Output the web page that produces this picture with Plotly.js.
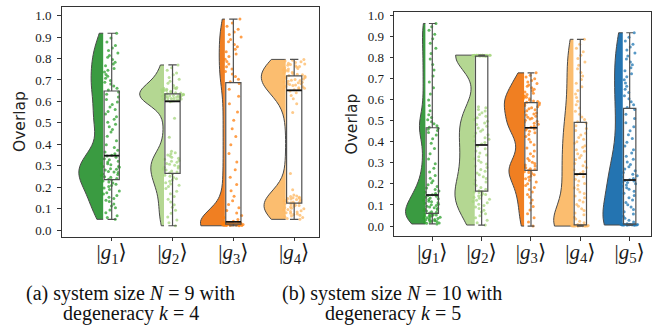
<!DOCTYPE html>
<html>
<head>
<meta charset="utf-8">
<script src="https://cdn.plot.ly/plotly-3.0.1.min.js"></script>
<style>html,body{margin:0;padding:0;background:#fff;}#chart{width:661px;height:335px;}</style>
</head>
<body>
<div id="chart"></div>
<script>
// ---------- data ----------
const tickLabelsA = ['|<i>g</i><sub>1</sub>⟩', '|<i>g</i><sub>2</sub>⟩', '|<i>g</i><sub>3</sub>⟩', '|<i>g</i><sub>4</sub>⟩'];
const tickLabelsB = ['|<i>g</i><sub>1</sub>⟩', '|<i>g</i><sub>2</sub>⟩', '|<i>g</i><sub>3</sub>⟩', '|<i>g</i><sub>4</sub>⟩', '|<i>g</i><sub>5</sub>⟩'];
const yTicks = [0.0, 0.1, 0.2, 0.3, 0.4, 0.5, 0.6, 0.7, 0.8, 0.9, 1.0];

// (a) N = 9, k = 4
const a_g1 = [0.050,0.058,0.067,0.081,0.093,0.104,0.112,0.121,0.133,0.139,0.147,0.153,0.161,0.168,0.174,0.182,0.189,0.196,0.203,0.208,0.214,0.219,0.224,0.229,0.233,
  0.237,0.240,0.246,0.249,0.255,0.259,0.261,0.268,0.271,0.273,0.280,0.284,0.286,0.293,0.296,0.298,0.305,0.309,0.311,0.318,0.321,0.328,0.333,0.339,0.345,
  0.349,0.356,0.364,0.372,0.385,0.398,0.417,0.438,0.457,0.469,0.482,0.494,0.503,0.517,0.528,0.541,0.553,0.562,0.574,0.586,0.597,0.609,0.621,0.633,0.644,
  0.653,0.661,0.672,0.681,0.689,0.698,0.708,0.717,0.726,0.737,0.745,0.754,0.766,0.774,0.783,0.795,0.806,0.814,0.826,0.838,0.849,0.861,0.877,0.896,0.918];
const a_g2 = [0.020,0.034,0.047,0.061,0.078,0.092,0.106,0.118,0.131,0.144,0.157,0.169,0.181,0.194,0.203,0.209,0.215,0.221,0.228,0.233,0.239,0.245,0.251,0.256,0.262,
  0.267,0.271,0.276,0.280,0.285,0.289,0.293,0.298,0.302,0.307,0.311,0.316,0.321,0.325,0.330,0.335,0.340,0.345,0.350,0.356,0.361,0.367,0.433,0.521,0.598,
  0.602,0.603,0.605,0.606,0.608,0.609,0.611,0.612,0.614,0.615,0.617,0.618,0.620,0.621,0.622,0.624,0.625,0.626,0.627,0.628,0.629,0.630,0.631,0.632,0.634,
  0.637,0.639,0.641,0.643,0.645,0.647,0.649,0.651,0.653,0.655,0.657,0.659,0.661,0.663,0.665,0.674,0.685,0.694,0.703,0.712,0.724,0.733,0.745,0.757,0.770];
const a_g3 = [0.020,0.021,0.021,0.022,0.022,0.023,0.023,0.023,0.024,0.024,0.024,0.025,0.025,0.025,0.025,0.026,0.026,0.026,0.026,0.027,0.027,0.027,0.027,0.028,0.028,
  0.028,0.028,0.029,0.029,0.029,0.029,0.030,0.030,0.030,0.030,0.031,0.031,0.031,0.031,0.032,0.032,0.032,0.033,0.033,0.033,0.034,0.034,0.035,0.035,0.036,
  0.041,0.049,0.058,0.068,0.079,0.091,0.104,0.119,0.137,0.158,0.183,0.212,0.246,0.281,0.318,0.357,0.398,0.436,0.473,0.512,0.551,0.589,0.624,0.657,0.684,
  0.692,0.703,0.716,0.728,0.739,0.751,0.762,0.774,0.786,0.797,0.809,0.821,0.832,0.843,0.855,0.866,0.878,0.889,0.901,0.912,0.924,0.937,0.951,0.966,0.984];
const a_g4 = [0.050,0.054,0.058,0.062,0.065,0.069,0.072,0.075,0.078,0.081,0.084,0.087,0.090,0.093,0.096,0.099,0.102,0.105,0.108,0.111,0.114,0.116,0.119,0.121,0.124,
  0.127,0.129,0.131,0.133,0.135,0.137,0.139,0.141,0.143,0.145,0.147,0.149,0.151,0.153,0.156,0.159,0.163,0.188,0.264,0.548,0.589,0.612,0.628,0.641,0.649,
  0.654,0.657,0.659,0.662,0.664,0.667,0.669,0.672,0.674,0.677,0.679,0.682,0.684,0.687,0.689,0.692,0.694,0.697,0.699,0.702,0.705,0.708,0.711,0.714,0.717,
  0.721,0.724,0.727,0.730,0.733,0.736,0.739,0.742,0.745,0.748,0.751,0.754,0.757,0.760,0.763,0.766,0.769,0.772,0.775,0.778,0.781,0.785,0.788,0.792,0.796];

// (b) N = 10, k = 5
const b_g1 = [0.010,0.013,0.015,0.018,0.019,0.022,0.024,0.025,0.028,0.030,0.031,0.034,0.036,0.037,0.040,0.042,0.043,0.046,0.048,0.049,0.052,0.054,0.055,0.057,0.059,
  0.062,0.065,0.068,0.071,0.074,0.078,0.081,0.084,0.087,0.091,0.094,0.097,0.101,0.104,0.108,0.111,0.115,0.118,0.122,0.126,0.129,0.133,0.137,0.141,0.145,
  0.149,0.154,0.160,0.166,0.173,0.180,0.188,0.196,0.205,0.215,0.227,0.240,0.256,0.274,0.295,0.318,0.343,0.368,0.392,0.414,0.431,0.444,0.453,0.459,0.464,
  0.468,0.476,0.485,0.494,0.504,0.515,0.528,0.547,0.571,0.598,0.626,0.655,0.683,0.711,0.739,0.766,0.792,0.818,0.843,0.866,0.888,0.909,0.928,0.945,0.960];
const b_g2 = [0.005,0.016,0.028,0.039,0.049,0.058,0.067,0.075,0.083,0.090,0.097,0.104,0.110,0.116,0.122,0.127,0.132,0.137,0.142,0.146,0.150,0.154,0.158,0.161,0.164,
  0.167,0.175,0.183,0.192,0.200,0.209,0.217,0.226,0.234,0.243,0.251,0.260,0.268,0.277,0.285,0.294,0.302,0.311,0.319,0.328,0.337,0.346,0.356,0.367,0.380,
  0.389,0.396,0.403,0.411,0.418,0.426,0.433,0.441,0.449,0.457,0.465,0.473,0.481,0.489,0.497,0.505,0.513,0.521,0.529,0.537,0.545,0.553,0.561,0.566,0.805,
  0.806,0.806,0.806,0.807,0.807,0.807,0.807,0.807,0.808,0.808,0.808,0.808,0.808,0.808,0.809,0.809,0.809,0.809,0.809,0.809,0.810,0.810,0.810,0.810,0.810];
const b_g3 = [0.000,0.019,0.039,0.058,0.076,0.093,0.109,0.124,0.138,0.150,0.162,0.173,0.183,0.192,0.201,0.209,0.217,0.224,0.231,0.237,0.243,0.249,0.254,0.258,0.262,
  0.265,0.268,0.272,0.276,0.280,0.285,0.290,0.296,0.303,0.311,0.320,0.331,0.343,0.356,0.370,0.385,0.399,0.412,0.424,0.434,0.442,0.449,0.455,0.460,0.464,
  0.468,0.473,0.478,0.483,0.487,0.492,0.497,0.502,0.507,0.511,0.516,0.521,0.526,0.531,0.536,0.541,0.546,0.551,0.556,0.561,0.566,0.571,0.575,0.579,0.583,
  0.587,0.590,0.593,0.596,0.599,0.603,0.607,0.611,0.615,0.619,0.624,0.629,0.635,0.641,0.648,0.655,0.662,0.669,0.676,0.683,0.690,0.698,0.706,0.715,0.726];
const b_g4 = [0.000,0.000,0.000,0.000,0.000,0.001,0.001,0.001,0.001,0.001,0.002,0.002,0.002,0.002,0.002,0.003,0.003,0.003,0.003,0.004,0.004,0.004,0.004,0.005,0.005,
  0.007,0.016,0.023,0.034,0.042,0.054,0.062,0.074,0.082,0.094,0.102,0.114,0.122,0.134,0.142,0.154,0.162,0.174,0.182,0.194,0.202,0.214,0.222,0.234,0.243,
  0.249,0.259,0.267,0.278,0.286,0.297,0.305,0.316,0.324,0.335,0.343,0.354,0.362,0.373,0.381,0.392,0.400,0.412,0.420,0.432,0.440,0.453,0.462,0.476,0.488,
  0.494,0.505,0.517,0.530,0.544,0.559,0.575,0.592,0.609,0.626,0.643,0.660,0.677,0.694,0.711,0.728,0.745,0.762,0.778,0.794,0.810,0.826,0.843,0.862,0.885];
const b_g5 = [0.005,0.005,0.005,0.005,0.005,0.005,0.006,0.006,0.006,0.006,0.006,0.006,0.006,0.007,0.007,0.007,0.007,0.007,0.007,0.007,0.008,0.008,0.008,0.008,0.008,
  0.011,0.019,0.028,0.037,0.047,0.057,0.068,0.079,0.090,0.101,0.112,0.123,0.134,0.145,0.155,0.165,0.174,0.182,0.189,0.195,0.201,0.206,0.210,0.214,0.216,
  0.220,0.226,0.232,0.239,0.246,0.254,0.262,0.271,0.281,0.292,0.304,0.317,0.331,0.346,0.362,0.379,0.397,0.415,0.433,0.452,0.471,0.490,0.510,0.530,0.553,
  0.562,0.575,0.589,0.603,0.618,0.633,0.648,0.663,0.678,0.693,0.708,0.722,0.736,0.750,0.764,0.778,0.792,0.806,0.820,0.834,0.848,0.862,0.877,0.895,0.916];

// ---------- styling ----------
const violinColorsA = ['#3a9b41', '#b4d792', '#f07f22', '#fbbd6f'];
const pointColorsA  = ['#2ca02c', '#a6d57e', '#ff7f0e', '#fdb863'];
const violinColorsB = ['#3a9b41', '#b4d792', '#f07f22', '#fbbd6f', '#2474b1'];
const pointColorsB  = ['#2ca02c', '#a6d57e', '#ff7f0e', '#fdb863', '#1f77b4'];
const bandwidthA = [0.05, 0.045, 0.06, 0.06];
const bandwidthB = [0.05, 0.07, 0.045, 0.08, 0.1];

const groupsA = [a_g1, a_g2, a_g3, a_g4];
const groupsB = [b_g1, b_g2, b_g3, b_g4, b_g5];

function medianOf(arr) {
  const s = arr.slice().sort((p, q) => p - q);
  const n = s.length, m = Math.floor(n / 2);
  return n % 2 ? s[m] : (s[m - 1] + s[m]) / 2;
}

const traces = [];
function addGroup(data, i, vcol, pcol, bw, xa, ya) {
  traces.push({
    type: 'violin', y: data, x0: i - 0.14, side: 'negative', width: 0.8,
    scalemode: 'width', spanmode: 'hard', bandwidth: bw, points: false,
    fillcolor: vcol, line: {color: '#4a4a4a', width: 1}, opacity: 1,
    xaxis: xa, yaxis: ya, hoverinfo: 'skip', showlegend: false
  });
  // jittered points (box outline hidden)
  traces.push({
    type: 'box', y: data, x0: i, width: 0.36, boxpoints: 'all', jitter: 1, pointpos: 0,
    fillcolor: 'rgba(0,0,0,0)', line: {color: 'rgba(0,0,0,0)', width: 0},
    marker: {color: pcol, size: 3, opacity: 0.75},
    xaxis: xa, yaxis: ya, hoverinfo: 'skip', showlegend: false
  });
  // visible box
  traces.push({
    type: 'box', y: data, x0: i, width: 0.25, boxpoints: false,
    whiskerwidth: 0.55, fillcolor: 'rgba(255,255,255,0)',
    line: {color: '#505050', width: 1.2},
    xaxis: xa, yaxis: ya, hoverinfo: 'skip', showlegend: false
  });
  // darker median line on top
  const med = medianOf(data);
  traces.push({
    type: 'box', x: [i], q1: [med], median: [med], q3: [med], lowerfence: [med], upperfence: [med],
    width: 0.25, whiskerwidth: 0, fillcolor: 'rgba(0,0,0,0)', line: {color: '#111', width: 1.6},
    boxpoints: false, xaxis: xa, yaxis: ya, hoverinfo: 'skip', showlegend: false
  });
}
groupsA.forEach((g, i) => addGroup(g, i, violinColorsA[i], pointColorsA[i], bandwidthA[i], 'x', 'y'));
groupsB.forEach((g, i) => addGroup(g, i, violinColorsB[i], pointColorsB[i], bandwidthB[i], 'x2', 'y2'));

const W = 661, H = 335;
const tickFont = {family: 'Liberation Serif, DejaVu Serif, serif', size: 13, color: '#1a1a1a'};
const xTickFont = {family: 'Liberation Serif, DejaVu Serif, serif', size: 21, color: '#1a1a1a'};
function xAxis(domainPx, range, labels) {
  return {
    type: 'linear', domain: [domainPx[0] / W, domainPx[1] / W], range: range,
    tickmode: 'array', tickvals: labels.map((_, i) => i), ticktext: labels,
    ticks: 'outside', ticklen: 3.5, tickcolor: '#333', tickwidth: 1, ticklabelstandoff: -7,
    showline: true, mirror: true, linecolor: '#333', linewidth: 1,
    showgrid: false, zeroline: false, tickfont: xTickFont
  };
}
function yAxis(domainPx, range, anchor) {
  return {
    domain: [1 - domainPx[1] / H, 1 - domainPx[0] / H], range: range, anchor: anchor,
    tickmode: 'array', tickvals: yTicks, ticktext: yTicks.map(v => v.toFixed(1)),
    ticks: 'outside', ticklen: 3.5, tickcolor: '#333', tickwidth: 1, ticklabelstandoff: 3,
    showline: true, mirror: true, linecolor: '#333', linewidth: 1,
    showgrid: false, zeroline: false, tickfont: tickFont
  };
}

const capFont = {family: 'Liberation Serif, serif', size: 20, color: '#111'};
const labFont = {family: 'DejaVu Sans, sans-serif', size: 15.5, color: '#222'};
const layout = {
  width: W, height: H, margin: {l: 0, r: 0, t: 0, b: 0},
  paper_bgcolor: '#fff', plot_bgcolor: '#fff', showlegend: false,
  violinmode: 'overlay', boxmode: 'overlay',
  xaxis: Object.assign(xAxis([61.7, 319], [-0.822, 3.408], tickLabelsA), {anchor: 'y'}),
  yaxis: yAxis([7.3, 236.7], [-0.031, 1.039], 'x'),
  xaxis2: Object.assign(xAxis([394, 650.7], [-0.776, 4.426], tickLabelsB), {anchor: 'y2'}),
  yaxis2: yAxis([12.3, 236], [-0.047, 1.013], 'x2'),
  annotations: [
    {text: 'Overlap', textangle: -90, xref: 'paper', yref: 'paper', x: 20 / W, y: 1 - 122 / H, showarrow: false, font: labFont, xanchor: 'center', yanchor: 'middle'},
    {text: 'Overlap', textangle: -90, xref: 'paper', yref: 'paper', x: 351.5 / W, y: 1 - 124 / H, showarrow: false, font: labFont, xanchor: 'center', yanchor: 'middle'},
    {text: '(a) system size <i>N</i> = 9 with', xref: 'paper', yref: 'paper', x: 130 / W, y: 1 - 293 / H, showarrow: false, font: capFont, xanchor: 'center', yanchor: 'middle'},
    {text: 'degeneracy <i>k</i> = 4', xref: 'paper', yref: 'paper', x: 130.5 / W, y: 1 - 313 / H, showarrow: false, font: capFont, xanchor: 'center', yanchor: 'middle'},
    {text: '(b) system size <i>N</i> = 10 with', xref: 'paper', yref: 'paper', x: 392 / W, y: 1 - 293 / H, showarrow: false, font: capFont, xanchor: 'center', yanchor: 'middle'},
    {text: 'degeneracy <i>k</i> = 5', xref: 'paper', yref: 'paper', x: 392.5 / W, y: 1 - 313 / H, showarrow: false, font: capFont, xanchor: 'center', yanchor: 'middle'}
  ]
};

Plotly.newPlot('chart', traces, layout, {displayModeBar: false, staticPlot: true});
</script>
</body>
</html>
